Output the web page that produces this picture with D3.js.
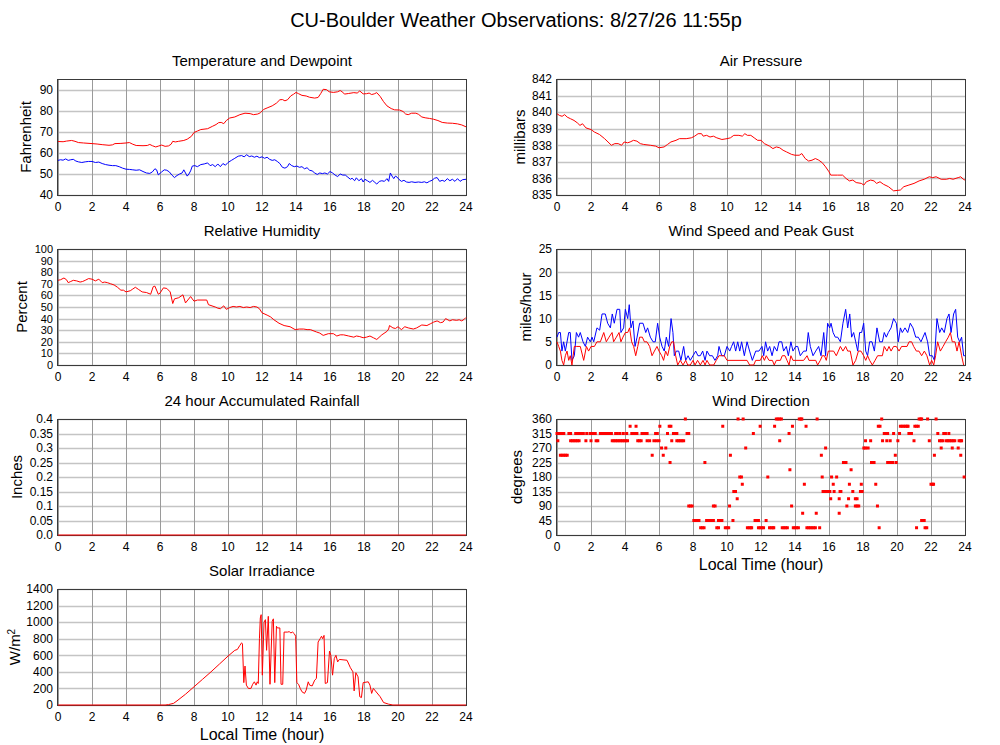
<!DOCTYPE html>
<html><head><meta charset="utf-8">
<script src="https://cdn.jsdelivr.net/npm/d3@7"></script>
<style>
body{margin:0;background:#fff}
text{font-family:"Liberation Sans",Arial,Helvetica,sans-serif;fill:#000}
</style></head>
<body><svg id="c" width="1000" height="745"></svg>
<script>
// ---------------- DATA ----------------
const mainTitle = "CU-Boulder Weather Observations: 8/27/26 11:55p";
const hourTicks = [0,2,4,6,8,10,12,14,16,18,20,22,24];

const temperature = [[0,65.5],[0.3,65.4],[0.5,65.7],[0.8,66],[1,65.6],[1.2,65],[1.5,64.8],[2,64.5],[2.3,64.3],[2.6,64],[3,63.7],[3.2,63.9],[3.35,64.5],[3.7,64.6],[4,64.8],[4.2,65],[4.4,64.2],[4.6,63.6],[5,63.5],[5.25,63.6],[5.4,64.1],[5.55,63.5],[5.75,62.9],[5.9,63.3],[6.1,63.8],[6.3,63.2],[6.5,63.4],[6.65,64.2],[6.75,65.6],[6.9,65.3],[7.1,65.6],[7.4,66],[7.6,66.6],[7.85,68],[8,69.8],[8.2,70.5],[8.4,71.2],[8.8,71.6],[9.1,72.8],[9.3,73.6],[9.45,74.5],[9.6,74.6],[9.75,74],[9.9,75.5],[10.1,76.7],[10.4,77.2],[10.7,78.3],[11,79],[11.3,78.8],[11.5,78.3],[11.75,78.6],[11.9,79.2],[12.1,80.8],[12.3,81.5],[12.6,82.5],[12.85,83.8],[13.05,85.4],[13.2,85.5],[13.35,84.9],[13.5,85.4],[13.7,87.3],[13.85,88],[14,88.9],[14.15,88.3],[14.35,87.5],[14.6,87.2],[14.8,86.6],[15.1,86.2],[15.3,86.5],[15.45,88.3],[15.6,90.4],[15.8,90.2],[15.95,89.2],[16.2,88.9],[16.45,89.2],[16.6,89.8],[16.75,89],[16.85,88.1],[17.1,88.4],[17.4,88.8],[17.6,88.6],[17.75,89.6],[17.95,88.2],[18.15,88.3],[18.3,88.6],[18.45,87.9],[18.6,88.2],[18.75,88.8],[18.95,87],[19.15,84.5],[19.35,82.5],[19.6,81.2],[19.8,80.6],[20.1,80.5],[20.3,79.8],[20.45,78.6],[20.6,78.3],[20.8,79],[21.05,79],[21.2,78.5],[21.4,77.2],[21.6,76.8],[21.85,76.5],[22.1,76.1],[22.35,75.5],[22.6,74.6],[22.9,74.3],[23.2,74.2],[23.5,73.9],[23.75,73.4],[24,72.5]];

const dewpoint = [[0,56.5],[0.15,56.8],[0.3,56.6],[0.45,57.2],[0.6,56.5],[0.75,56.8],[0.9,57],[1.05,56.2],[1.2,55.8],[1.4,55.5],[1.6,55.8],[1.8,56],[2,56],[2.2,55.5],[2.4,55.7],[2.6,55],[2.8,54.5],[3,54.2],[3.2,54],[3.4,54],[3.6,53.5],[3.8,52.8],[4,52.3],[4.2,52.2],[4.4,52],[4.6,51.8],[4.8,52],[5,51.2],[5.2,50.5],[5.4,50.3],[5.55,51],[5.7,52.5],[5.8,52],[5.9,49.6],[6.0,50.3],[6.1,51],[6.25,52],[6.4,51.8],[6.55,51],[6.7,49.5],[6.85,48.3],[7.0,49.3],[7.15,50],[7.3,50.5],[7.4,52],[7.5,50.5],[7.6,49],[7.7,50],[7.8,51.5],[7.9,53.8],[8.05,54],[8.2,53.5],[8.4,54.5],[8.6,54.8],[8.8,55.3],[8.95,54],[9.1,54.5],[9.25,53.5],[9.4,54.8],[9.55,53.5],[9.7,55],[9.85,54.2],[10,55.5],[10.2,56.5],[10.4,57.5],[10.6,58.5],[10.8,58.8],[10.95,58.2],[11.1,59.2],[11.25,58.3],[11.4,58.6],[11.55,58],[11.7,58.5],[11.85,57.8],[12,58.2],[12.15,57.5],[12.3,58],[12.45,57],[12.6,56.5],[12.75,56.8],[12.9,56],[13.05,55],[13.2,53.2],[13.35,52.8],[13.5,53.5],[13.6,55],[13.75,54],[13.9,53.5],[14.05,53.8],[14.2,53.2],[14.35,53.5],[14.5,52.5],[14.65,53],[14.8,51.8],[14.95,51.5],[15.1,50.5],[15.25,49.8],[15.4,50.5],[15.55,50.2],[15.7,50.5],[15.85,50],[16,51.2],[16.15,50.5],[16.3,49.5],[16.45,48.8],[16.6,50],[16.75,49.5],[16.9,49.5],[17.05,48.5],[17.2,47.5],[17.3,48],[17.45,46.8],[17.55,48.2],[17.7,46.8],[17.85,47.8],[17.95,46.2],[18.05,47.5],[18.2,46.8],[18.35,46],[18.5,47],[18.6,46.3],[18.75,45.2],[18.9,46.5],[19.05,46.8],[19.2,46.5],[19.35,47.8],[19.45,46.5],[19.55,50.5],[19.65,49],[19.75,47.8],[19.85,49],[19.95,48.5],[20.05,47.5],[20.2,46.5],[20.35,47],[20.5,46.2],[20.65,46],[20.8,46.3],[21,46],[21.2,46.2],[21.4,46],[21.55,46.3],[21.7,45.8],[21.85,46.5],[22,47],[22.15,48],[22.3,48.3],[22.45,46.5],[22.6,47],[22.75,46.5],[22.9,47.8],[23.05,46.8],[23.2,47.5],[23.35,46.5],[23.5,47.8],[23.65,46.5],[23.8,47.3],[24,47.5]];

const pressure = [[0,839.9],[0.15,839.8],[0.3,839.75],[0.45,839.85],[0.6,839.7],[0.8,839.6],[1,839.5],[1.2,839.35],[1.35,839.2],[1.5,839.3],[1.7,839.05],[2,838.95],[2.2,838.8],[2.5,838.65],[2.8,838.4],[3,838.2],[3.2,838.0],[3.4,838.1],[3.6,838.1],[3.8,838.0],[3.95,838.2],[4.15,838.15],[4.3,838.2],[4.5,838.3],[4.7,838.25],[4.9,838.1],[5.1,838.05],[5.5,838.0],[5.8,837.95],[6,837.85],[6.3,837.9],[6.5,838.05],[6.7,838.2],[7,838.3],[7.2,838.4],[7.6,838.4],[7.9,838.45],[8.1,838.55],[8.3,838.7],[8.5,838.7],[8.6,838.55],[8.8,838.6],[9,838.5],[9.2,838.55],[9.4,838.45],[9.7,838.35],[10,838.4],[10.2,838.45],[10.4,838.6],[10.7,838.6],[10.9,838.55],[11.05,838.7],[11.2,838.6],[11.4,838.6],[11.6,838.45],[11.8,838.3],[12,838.3],[12.2,838.1],[12.5,837.95],[12.7,837.8],[12.9,837.9],[13.1,837.85],[13.3,837.7],[13.5,837.6],[13.8,837.45],[14,837.4],[14.25,837.4],[14.4,837.5],[14.6,837.2],[14.8,837.05],[15,837.1],[15.2,837.2],[15.4,837.1],[15.6,836.95],[15.8,836.7],[16,836.4],[16.1,836.2],[16.5,836.2],[16.8,836.2],[17,836.0],[17.2,835.85],[17.4,835.9],[17.6,835.75],[17.9,835.7],[18.05,835.6],[18.2,835.8],[18.45,835.9],[18.65,835.85],[18.8,835.7],[19,835.8],[19.2,835.65],[19.5,835.5],[19.8,835.25],[20.2,835.3],[20.4,835.5],[20.7,835.6],[21,835.7],[21.3,835.85],[21.6,835.95],[21.9,836.1],[22.1,836.05],[22.3,836.1],[22.6,835.95],[22.9,835.95],[23.1,836.0],[23.3,835.95],[23.6,836.05],[23.75,836.1],[23.9,835.95],[24,835.9]];

const humidity = [[0,73],[0.15,73.5],[0.35,75],[0.5,73.5],[0.6,71],[0.75,72],[0.9,73],[1.1,72.5],[1.3,71.5],[1.45,72],[1.6,73],[1.8,74.5],[2,74],[2.2,72.5],[2.4,74],[2.6,71],[2.75,71.5],[2.9,71],[3.1,70],[3.3,69],[3.5,67],[3.7,64.5],[3.85,64.5],[4,63],[4.25,64],[4.4,65.5],[4.55,67],[4.75,65],[4.95,63],[5.2,62.5],[5.45,61],[5.6,67.5],[5.7,68],[5.9,61],[6,62],[6.2,66.5],[6.4,66],[6.6,63],[6.75,53],[6.85,57],[7.1,58],[7.35,60.5],[7.5,53.5],[7.8,59],[8,55],[8.2,56],[8.75,56],[8.85,52],[9.25,50],[9.4,49],[9.55,48.5],[9.75,51],[9.9,48],[10.1,49.5],[10.3,50.5],[10.5,50],[10.7,50.5],[10.9,49.5],[11.1,50],[11.3,49.5],[11.5,50.5],[11.7,50],[11.85,48.5],[12,45],[12.3,43],[12.5,41.5],[12.7,39],[13,36],[13.3,34],[13.65,33],[13.95,30.5],[14.2,31],[14.45,31],[14.65,30.5],[14.85,30.5],[15.2,28.5],[15.4,27.5],[15.6,25.5],[15.9,27],[16.2,27],[16.4,25],[16.6,26],[16.8,26],[17.1,25],[17.4,24],[17.55,25],[17.75,24.5],[17.95,23.5],[18.15,24],[18.35,25],[18.55,23.5],[18.75,22],[19.05,26],[19.35,29],[19.45,31],[19.5,34],[19.7,32],[19.85,31.5],[20,33],[20.2,30.5],[20.4,33],[20.6,32],[20.9,31],[21.1,32],[21.4,34.5],[21.7,34],[21.9,35.5],[22.1,37],[22.3,38],[22.5,36.5],[22.65,37],[22.8,40],[23.05,38],[23.2,39],[23.45,38.5],[23.6,39],[23.75,38],[23.9,39.5],[24,41]];

const windGust = [[0,6],[0.1,7],[0.2,7],[0.29,3],[0.39,5],[0.49,3],[0.69,7],[0.78,7],[0.88,1],[1.02,2],[1.14,7],[1.27,6],[1.37,7],[1.53,5],[1.67,4],[1.8,6],[1.96,5],[2.06,6],[2.16,5],[2.35,8],[2.51,7.5],[2.65,11],[2.84,11],[2.98,9],[3.14,8],[3.25,11],[3.37,9],[3.53,12],[3.69,12],[3.76,7],[3.92,8],[4.02,12],[4.16,10],[4.25,13],[4.35,8],[4.47,9.5],[4.59,4],[4.71,6],[4.86,9],[5.06,9],[5.22,7],[5.33,8],[5.49,6],[5.65,5],[5.78,5],[5.92,9],[6.04,6],[6.18,4],[6.31,3],[6.43,6],[6.57,4],[6.71,10],[6.82,7],[6.9,2],[7.02,3],[7.16,3],[7.29,1],[7.45,4],[7.57,1],[7.71,2],[7.84,1],[8,2],[8.16,3],[8.29,2],[8.43,2],[8.57,3],[8.71,1],[8.82,3],[8.98,2],[9.14,2],[9.29,1],[9.45,2],[9.53,4],[9.69,2],[9.84,2],[10,4],[10.16,3],[10.27,4],[10.39,5],[10.51,3],[10.63,5],[10.75,3],[10.86,5],[11.02,2],[11.18,5],[11.33,3],[11.49,1],[11.69,3],[11.88,3],[12.06,4],[12.16,2],[12.27,5],[12.39,3],[12.51,4],[12.65,2],[12.78,4],[12.94,3],[13.06,5],[13.22,5],[13.33,3],[13.49,4],[13.61,2],[13.76,5],[13.88,3],[14.04,4],[14.16,4],[14.31,2],[14.51,3],[14.67,3],[14.78,7],[14.9,4],[15.06,2],[15.22,3],[15.39,4],[15.53,2],[15.69,7],[15.8,2],[15.92,9],[16.04,8],[16.12,9],[16.24,7],[16.37,6],[16.51,6],[16.67,5],[16.82,9],[16.98,12],[17.1,8],[17.22,11],[17.33,6],[17.45,7],[17.57,5],[17.69,3],[17.8,7],[17.92,7],[18.04,9],[18.16,3],[18.27,2],[18.39,5],[18.53,5],[18.67,3],[18.82,8],[18.98,5],[19.14,5],[19.25,7],[19.37,6],[19.49,7],[19.65,8],[19.8,10],[19.96,9],[20.08,5],[20.2,8],[20.31,7],[20.47,8],[20.63,7],[20.78,9],[20.94,8],[21.1,6],[21.25,6],[21.41,5],[21.53,6],[21.65,7],[21.8,5],[21.92,2],[22.08,2],[22.2,1],[22.35,10],[22.51,7],[22.63,8],[22.78,7],[22.94,10],[23.06,11],[23.18,7],[23.33,11],[23.45,12],[23.57,6],[23.69,5],[23.8,6],[23.92,2],[24,2]];

const windSpeed = [[0,5],[0.1,4],[0.2,3],[0.29,1],[0.39,0],[0.49,2],[0.59,3],[0.69,1],[0.78,2],[0.88,0],[1.02,4],[1.14,4],[1.37,4],[1.57,1],[1.73,4],[1.86,3],[2,4],[2.2,4],[2.35,5],[2.55,5],[2.75,7],[2.9,5],[3.06,6],[3.24,7],[3.33,5],[3.49,6],[3.65,7],[3.76,5],[3.88,6],[4.02,7],[4.16,7],[4.27,8],[4.39,5],[4.51,4],[4.63,2],[4.75,4],[4.86,6],[5.02,6],[5.14,5],[5.29,5],[5.45,4],[5.59,2],[5.73,3],[5.88,4],[6,3],[6.16,2],[6.27,1],[6.39,3],[6.51,2],[6.63,4],[6.75,5],[6.86,5],[6.98,2],[7.1,0],[7.25,1],[7.41,0],[7.57,1],[7.69,0],[7.84,0],[8,1],[8.12,0],[8.27,1],[8.43,0],[8.59,1],[8.71,0],[8.82,1],[8.98,0],[9.22,0],[9.37,1],[9.53,2],[9.69,2],[9.84,2],[10,1],[11.18,1],[11.33,0],[11.57,0],[11.69,1],[11.96,1],[12.08,2],[12.2,1],[12.31,2],[12.47,1],[12.67,1],[12.78,0],[12.9,1],[13.14,1],[13.25,2],[13.41,2],[13.53,1],[13.65,0],[13.76,2],[13.88,1],[14.51,1],[14.71,2],[14.82,1],[15.22,1],[15.33,0],[15.49,1],[15.61,2],[15.73,2],[15.84,1],[15.96,3],[16.27,3],[16.43,2],[16.55,3],[16.67,4],[16.82,3],[16.98,4],[17.1,3],[17.25,3],[17.41,0],[17.57,1],[17.73,3],[17.88,3],[18.04,2],[18.16,1],[18.27,2],[18.39,1],[18.55,0],[18.71,1],[18.86,2],[19.14,2],[19.25,4],[19.41,3],[19.53,4],[19.65,3],[19.8,4],[19.96,4],[20.12,3],[20.27,4],[20.59,4],[20.71,5],[20.86,5],[20.98,4],[21.14,3],[21.29,3],[21.45,2],[21.61,3],[21.76,2],[21.92,0],[22.04,1],[22.16,0],[22.27,2],[22.39,5],[22.55,3],[22.71,4],[22.86,5],[23.02,6],[23.14,7],[23.25,5],[23.41,5],[23.53,3],[23.65,5],[23.8,2],[23.92,0]];

const rainfall = [[0,0],[24,0]];

// wind direction observations grouped by direction (degrees) -> hours observed
const windDirection = [
  [315,[0,0.1,0.2,0.3,0.4,0.7,0.8,1.1,1.2,1.3,1.4,1.55,1.75,1.95,2.05,2.15,2.25,2.55,2.65,2.75,2.85,2.95,3.05,3.15,3.2,3.45,3.55,3.7,3.9,4.1,4.4,4.5,4.6,4.7,5.0,5.1,5.2,5.3,5.8,5.9,6.5,6.85,6.95,7.05,7.65,7.75,11.55,13.65,19.25,19.35,19.45,19.8,20.15,20.7,20.8,20.85,22.4,22.75,22.85,23.05]],
  [292.5,[0.05,0.8,0.9,1.0,1.1,1.2,1.3,1.7,2.0,2.3,2.4,3.25,3.35,3.45,3.55,3.65,3.75,3.85,3.95,4.05,4.15,4.75,4.85,4.95,5.3,5.45,5.7,5.85,6.0,6.75,7.05,7.15,7.25,7.35,7.45,13.1,18.15,18.45,19.15,19.4,19.6,20.05,21.0,21.9,22.5,22.6,22.7,22.9,23.0,23.1,23.2,23.3,23.4,23.65,23.75,23.8]],
  [247.5,[0.2,0.3,0.4,0.5,0.6,5.6,6.25,10.2,15.55,19.9,22.2,23.75]],
  [270,[6.15,6.4,11.1,15.8,18.05,18.15,18.3,22.6,23.25,23.6]],
  [337.5,[4.3,4.65,6.05,6.6,6.7,9.75,11.95,12.8,13.85,14.65,18.9,19.0,20.2,20.3,20.4,20.5,20.6,20.65,21.05,21.15,21.25]],
  [360,[7.55,10.65,10.95,12.9,13.0,13.1,13.2,14.25,14.35,14.4,15.3,19.1,21.3,21.4,21.45,21.8,22.3]],
  [225,[6.65,8.7,16.85,16.95,17.0,18.5,18.6,18.65,19.45,19.55,19.65,19.75,19.95]],
  [202.5,[13.7,17.3]],
  [180,[10.75,10.85,12.4,15.6,16.15,16.45,23.95]],
  [157.5,[10.9,14.55,16.25,17.2,17.9,18.75,22.0,22.1,22.15]],
  [135,[10.4,10.5,15.65,15.75,15.85,15.95,16.05,16.3,16.65,16.7,17.4,17.85,17.95]],
  [112.5,[10.6,16.1,16.6,17.15,17.55,17.65]],
  [90,[7.75,7.85,7.95,9.2,9.3,10.15,13.8,17.05,17.55,17.65,17.75,18.85]],
  [67.5,[14.45,15.25,16.6]],
  [45,[8.05,8.15,8.25,8.35,8.8,8.9,9.0,9.1,9.2,9.5,9.6,9.7,10.35,11.65,11.75,11.85,12.3,21.45,21.55,21.6]],
  [22.5,[8.45,8.55,8.65,9.4,9.5,9.9,10.0,10.1,11.2,11.3,11.4,11.45,11.85,11.95,12.05,12.15,12.5,12.6,12.7,12.75,13.25,13.35,13.45,13.55,13.9,14.0,14.1,14.2,14.7,14.8,14.9,15.0,15.1,15.2,15.45,18.95,21.15,21.65,21.75]]
];

const solar = [[0,0],[6.3,0],[6.5,5],[6.8,20],[7,50],[7.5,130],[8,220],[8.5,310],[9,400],[9.5,495],[10,590],[10.4,660],[10.55,670],[10.7,720],[10.8,750],[10.85,740],[10.93,270],[11.0,470],[11.08,240],[11.2,200],[11.35,200],[11.45,250],[11.55,280],[11.65,240],[11.72,280],[11.78,260],[11.85,800],[11.9,1050],[11.95,1090],[12.02,360],[12.12,1000],[12.2,1030],[12.27,660],[12.37,1070],[12.47,250],[12.6,1010],[12.67,1040],[12.75,270],[12.85,950],[12.9,930],[13.05,930],[13.12,250],[13.22,250],[13.3,880],[13.5,880],[13.6,885],[13.7,870],[13.8,880],[13.9,860],[13.98,830],[14.05,270],[14.15,250],[14.25,200],[14.35,160],[14.5,140],[14.6,180],[14.72,280],[14.8,240],[14.95,230],[15.1,300],[15.2,320],[15.3,760],[15.42,800],[15.5,830],[15.57,800],[15.65,840],[15.72,260],[15.85,270],[15.97,650],[16.05,600],[16.15,360],[16.25,560],[16.35,600],[16.45,520],[16.55,550],[17,540],[17.2,450],[17.35,400],[17.42,170],[17.52,390],[17.65,340],[17.75,100],[17.85,90],[17.95,270],[18.25,280],[18.35,240],[18.45,140],[18.55,200],[18.95,100],[19.15,30],[19.45,10],[19.7,0],[24,0]];

const tempTicks = [40,50,60,70,80,90];
const pressTicks = [835,836,837,838,839,840,841,842];
const humTicks = [0,10,20,30,40,50,60,70,80,90,100];
const windTicks = [0,5,10,15,20,25];
const rainTicks = [0,0.05,0.1,0.15,0.2,0.25,0.3,0.35,0.4];
const rainTickLabels = ["0.0","0.05","0.1","0.15","0.2","0.25","0.3","0.35","0.4"];
const dirTicks = [0,45,90,135,180,225,270,315,360];
const solarTicks = [0,200,400,600,800,1000,1200,1400];

// ---------------- DRAW ----------------
const svg = d3.select("#c");
svg.append("rect").attr("width",1000).attr("height",745).attr("fill","#fff");
svg.append("text").attr("x",516).attr("y",27).attr("text-anchor","middle")
  .style("font-size","20px").text(mainTitle);

const PW = 408, PH = 116;
const COLS = [58, 557];
const ROWS = [79, 249, 419, 589];

function panel(col,row,opt){
  const x0 = COLS[col], y0 = ROWS[row];
  const g = svg.append("g").attr("transform",`translate(${x0},${y0})`);
  const x = d3.scaleLinear().domain([0,24]).range([0,PW]);
  const y = d3.scaleLinear().domain(opt.domain).range([PH,0]);
  const fs = opt.tickSize || 12;
  // horizontal grid
  g.append("g").selectAll("line").data(opt.ticks).join("line")
    .attr("x1",0).attr("x2",PW).attr("y1",d=>Math.round(y(d))+0.5).attr("y2",d=>Math.round(y(d))+0.5)
    .attr("stroke","#c4c4c4").attr("stroke-width",1.5);
  // vertical grid
  g.append("g").selectAll("line").data(hourTicks).join("line")
    .attr("y1",0).attr("y2",PH).attr("x1",d=>Math.round(x(d))+0.5).attr("x2",d=>Math.round(x(d))+0.5)
    .attr("stroke","#9a9a9a").attr("stroke-width",1);
  // y tick labels
  g.append("g").selectAll("text").data(opt.ticks).join("text")
    .attr("x",-5).attr("y",d=>y(d)).attr("dy","0.36em").attr("text-anchor","end")
    .style("font-size",fs+"px").text((d,i)=>opt.labels?opt.labels[i]:d);
  // x tick labels
  g.append("g").selectAll("text").data(hourTicks).join("text")
    .attr("x",d=>x(d)).attr("y",PH+16).attr("text-anchor","middle")
    .style("font-size","12px").text(d=>d);
  // title
  g.append("text").attr("x",PW/2).attr("y",-13).attr("text-anchor","middle")
    .style("font-size","15px").text(opt.title);
  // y label
  const yl = g.append("text").attr("transform",`translate(${opt.ylx - x0},${PH/2}) rotate(-90)`)
    .attr("text-anchor","middle").style("font-size","15px");
  if(opt.ylabelSup){
    yl.append("tspan").text(opt.ylabel);
    yl.append("tspan").attr("dy","-0.5em").style("font-size","10px").text(opt.ylabelSup);
  } else yl.text(opt.ylabel);
  if(opt.xlabel){
    g.append("text").attr("x",PW/2).attr("y",PH+35).attr("text-anchor","middle")
      .style("font-size","16px").text(opt.xlabel);
  }
  // frame
  g.append("rect").attr("x",-0.5).attr("y",0.5).attr("width",PW+1).attr("height",PH)
    .attr("fill","none").attr("stroke","#3a3a3a").attr("stroke-width",1);
  const plot = g.append("g");
  return {g:plot,x,y};
}

function drawLine(p,data,color){
  p.g.append("path").datum(data)
    .attr("d",d3.line().x(d=>p.x(d[0])).y(d=>p.y(d[1])))
    .attr("fill","none").attr("stroke",color).attr("stroke-width",1).attr("stroke-linejoin","round");
}

const pT = panel(0,0,{title:"Temperature and Dewpoint",domain:[40,95.3],ticks:tempTicks,ylabel:"Fahrenheit",ylx:31});
drawLine(pT,temperature,"#ff0000");
drawLine(pT,dewpoint,"#0000ff");

const pP = panel(1,0,{title:"Air Pressure",domain:[835,842],ticks:pressTicks,ylabel:"millibars",ylx:525});
drawLine(pP,pressure,"#ff0000");

const pH = panel(0,1,{title:"Relative Humidity",domain:[0,100],ticks:humTicks,ylabel:"Percent",ylx:27,tickSize:11});
drawLine(pH,humidity,"#ff0000");

const pW = panel(1,1,{title:"Wind Speed and Peak Gust",domain:[0,25],ticks:windTicks,ylabel:"miles/hour",ylx:531});
drawLine(pW,windGust,"#0000ff");
drawLine(pW,windSpeed,"#ff0000");

const pR = panel(0,2,{title:"24 hour Accumulated Rainfall",domain:[0,0.4],ticks:rainTicks,labels:rainTickLabels,ylabel:"Inches",ylx:22});
drawLine(pR,rainfall,"#ff0000");

const pD = panel(1,2,{title:"Wind Direction",domain:[0,360],ticks:dirTicks,ylabel:"degrees",ylx:522,xlabel:"Local Time (hour)"});
const dirPts = windDirection.flatMap(([deg,hours])=>hours.map(h=>[h,deg]));
pD.g.selectAll("rect.pt").data(dirPts).join("rect").attr("class","pt")
  .attr("x",d=>pD.x(d[0])-1.5).attr("y",d=>pD.y(d[1])-1.5).attr("width",3).attr("height",3)
  .attr("fill","#ff0000");

const pS = panel(0,3,{title:"Solar Irradiance",domain:[0,1400],ticks:solarTicks,ylabel:"W/m",ylabelSup:"2",ylx:20,xlabel:"Local Time (hour)"});
drawLine(pS,solar,"#ff0000");
</script></body></html>
